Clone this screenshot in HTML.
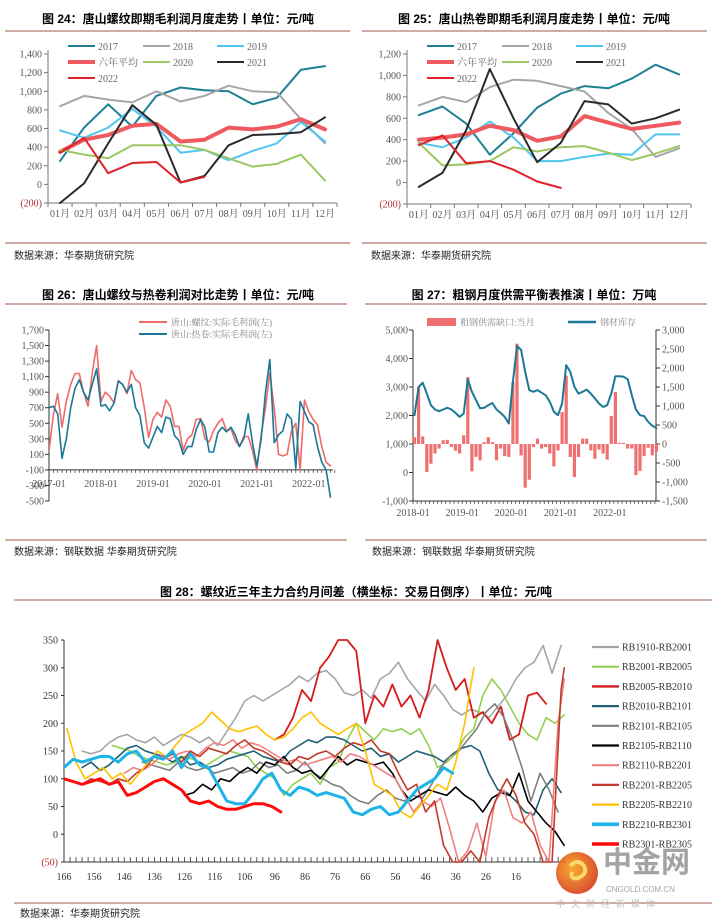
<!DOCTYPE html>
<html><head><meta charset="utf-8">
<style>
html,body{margin:0;padding:0;background:#fff;}
svg{display:block;}
text{font-family:"Liberation Serif","Noto Serif CJK SC",serif;}
.t{font-family:"Liberation Sans","Noto Sans CJK SC",sans-serif;font-weight:bold;font-size:12px;fill:#000;}
.s{font-family:"Liberation Sans","Noto Sans CJK SC",sans-serif;font-size:10px;fill:#222;}
.ax{font-size:10px;fill:#555;}
</style></head>
<body>
<svg id="root" width="712" height="923" viewBox="0 0 712 923" xmlns="http://www.w3.org/2000/svg">
<defs>
<clipPath id="c28"><rect x="64" y="636" width="505" height="228"/></clipPath>
<clipPath id="c26"><rect x="49" y="328" width="290" height="176"/></clipPath>
<radialGradient id="lg" cx="0.4" cy="0.4" r="0.7"><stop offset="0" stop-color="#f7a21b"/><stop offset="1" stop-color="#d4301a"/></radialGradient>
</defs>
<!-- titles and footers -->
<text class="t" x="178" y="23" text-anchor="middle">图 24：唐山螺纹即期毛利润月度走势丨单位：元/吨</text>
<line x1="5" y1="31" x2="350" y2="31" stroke="#a35a4a" stroke-width="1"/>
<line x1="5" y1="243" x2="350" y2="243" stroke="#a35a4a" stroke-width="1"/>
<text class="s" x="14" y="259">数据来源：华泰期货研究院</text>

<text class="t" x="534" y="23" text-anchor="middle">图 25：唐山热卷即期毛利润月度走势丨单位：元/吨</text>
<line x1="362" y1="31" x2="707" y2="31" stroke="#a35a4a" stroke-width="1"/>
<line x1="362" y1="243" x2="707" y2="243" stroke="#a35a4a" stroke-width="1"/>
<text class="s" x="371" y="259">数据来源：华泰期货研究院</text>

<text class="t" x="178" y="299" text-anchor="middle">图 26：唐山螺纹与热卷利润对比走势丨单位：元/吨</text>
<line x1="5" y1="304" x2="347" y2="304" stroke="#a35a4a" stroke-width="1"/>
<line x1="5" y1="540" x2="347" y2="540" stroke="#a35a4a" stroke-width="1"/>
<text class="s" x="14" y="555">数据来源：钢联数据 华泰期货研究院</text>

<text class="t" x="534" y="299" text-anchor="middle">图 27：粗钢月度供需平衡表推演丨单位：万吨</text>
<line x1="365" y1="304" x2="707" y2="304" stroke="#a35a4a" stroke-width="1"/>
<line x1="365" y1="540" x2="707" y2="540" stroke="#a35a4a" stroke-width="1"/>
<text class="s" x="372" y="555">数据来源：钢联数据 华泰期货研究院</text>

<text class="t" x="356" y="596" text-anchor="middle">图 28：螺纹近三年主力合约月间差（横坐标：交易日倒序）丨单位：元/吨</text>
<line x1="14" y1="600" x2="712" y2="600" stroke="#a35a4a" stroke-width="1"/>
<line x1="14" y1="903" x2="712" y2="903" stroke="#a35a4a" stroke-width="1"/>
<text class="s" x="20" y="917">数据来源：华泰期货研究院</text>

<g id="g24"></g>
<g id="g25"></g>
<g id="g26"></g>
<g id="g27"></g>
<g id="g28"></g>

<g opacity="0.9">
<circle cx="577" cy="873" r="21" fill="url(#lg)"/>
<path d="M570 866 q8 -8 14 0 q4 8 -6 12 q-8 2 -6 -6" stroke="#fbd55a" stroke-width="4" fill="none"/>
<text x="603" y="872" font-size="29" font-weight="bold" fill="#9a9a9a" style="font-family:'Noto Sans CJK SC',sans-serif">中金网</text>
<text x="606" y="892" font-size="8" fill="#9a9a9a" style="font-family:'Liberation Sans',sans-serif">CNGOLD.COM.CN</text>
<text x="556" y="907" font-size="9" fill="#bbb" letter-spacing="6" style="font-family:'Noto Sans CJK SC',sans-serif">中文财经新媒体</text>
</g>
</svg>
<script>
// ---------- Fig 24 data ----------
const months = ["01月","02月","03月","04月","05月","06月","07月","08月","09月","10月","11月","12月"];
const yearNames = ["2017","2018","2019","六年平均","2020","2021","2022"];
const r24_2017 = [250,610,860,620,950,1040,1010,1000,860,930,1230,1270];
const r24_2018 = [840,950,910,880,1000,890,950,1060,1000,990,700,440];
const r24_2019 = [580,500,610,810,620,340,370,260,360,440,670,460];
const r24_avg  = [350,480,530,630,650,460,480,610,590,620,700,590];
const r24_2020 = [370,320,280,420,420,420,370,280,190,220,320,40];
const r24_2021 = [-200,10,440,850,640,20,90,420,530,540,560,720];
const r24_2022 = [340,500,120,230,240,20,80];
const ticks24 = [1400,1200,1000,800,600,400,200,0,-200];
const tickLabels24 = ["1,400","1,200","1,000","800","600","400","200","0","(200)"];
// ---------- Fig 25 data ----------
const h25_2017 = [630,710,550,260,460,700,830,900,880,970,1100,1010];
const h25_2018 = [720,800,750,890,960,950,900,850,650,500,240,320];
const h25_2019 = [370,330,420,570,420,200,200,240,270,260,450,450];
const h25_avg  = [400,420,450,530,490,390,430,620,560,500,530,560];
const h25_2020 = [370,160,170,200,330,290,330,340,280,210,270,340];
const h25_2021 = [-40,90,490,1060,600,190,370,760,730,550,600,680];
const h25_2022 = [350,440,180,200,120,10,-50];
const ticks25 = [1200,1000,800,600,400,200,0,-200];
const tickLabels25 = ["1,200","1,000","800","600","400","200","0","(200)"];
// ---------- Fig 26 data (monthly from 2017-01) ----------
const rebar26 = [150,600,880,450,780,1000,1140,1140,900,720,1150,1500,780,900,850,760,1050,1000,880,1180,1060,1020,700,320,550,640,580,800,720,460,460,150,300,350,550,560,300,260,400,500,560,400,430,280,200,330,330,150,-100,350,700,1150,700,100,80,100,400,500,-100,800,650,550,480,200,0,-50];
const coil26 = [700,720,620,50,300,700,950,1060,900,800,1000,1200,720,740,660,760,1040,1000,900,1000,700,600,250,180,320,460,380,580,560,340,280,100,200,200,420,550,450,130,130,380,450,390,450,350,200,300,620,250,-50,300,900,1320,250,350,400,620,550,-80,780,650,520,480,200,0,-100,-450];
const xLabels26 = ["2017-01","2018-01","2019-01","2020-01","2021-01","2022-01"];
const ticks26 = [1700,1500,1300,1100,900,700,500,300,100,-100,-300,-500];
const tickLabels26 = ["1,700","1,500","1,300","1,100","900","700","500","300","100","-100","-300","-500"];
// ---------- Fig 27 data (monthly from 2018-01) ----------
const gap27 = [180,1500,200,-740,-520,-250,-120,100,110,-80,-180,-250,230,1760,-720,-340,-430,50,180,50,-430,-120,-320,-340,1630,2640,-300,-1150,-940,-80,140,-120,-80,-250,-590,-170,840,1800,-340,-870,-340,140,140,-170,-390,-150,-250,-410,740,1370,30,30,-120,-120,-820,-710,-320,-100,-300,-200];
const stock27 = [2010,3000,3150,2770,2360,2210,2150,2210,2270,2210,2090,1950,2070,3270,2830,2540,2250,2270,2360,2440,2210,2090,1950,1720,3180,4440,4300,3530,2890,2830,2890,2800,2710,2480,2130,2010,2420,3770,3530,3010,2770,2830,2910,2770,2600,2420,2300,2360,2770,3380,3380,3360,3270,2710,2210,2010,1980,1780,1640,1560];
const xLabels27 = ["2018-01","2019-01","2020-01","2021-01","2022-01"];
const leftTicks27 = [5000,4000,3000,2000,1000,0,-1000];
const leftLabels27 = ["5,000","4,000","3,000","2,000","1,000","0","-1,000"];
const rightTicks27 = [3000,2500,2000,1500,1000,500,0,-500,-1000,-1500];
const rightLabels27 = ["3,000","2,500","2,000","1,500","1,000","500","0","-500","-1,000","-1,500"];
// ---------- Fig 28 data (days to expiry, every 3 days from start) ----------
const seriesNames28 = ["RB1910-RB2001","RB2001-RB2005","RB2005-RB2010","RB2010-RB2101","RB2101-RB2105","RB2105-RB2110","RB2110-RB2201","RB2201-RB2205","RB2205-RB2210","RB2210-RB2301","RB2301-RB2305"];
const startDay28 = [160,150,96,160,140,126,146,166,165,166,166];
const s1910 = [150,145,150,165,175,180,170,165,175,160,170,180,175,165,175,160,185,210,240,250,240,250,260,270,285,275,290,295,280,255,250,260,245,280,290,310,280,260,240,270,250,225,215,225,220,210,230,250,280,300,310,340,290,340];
const s2001 = [160,155,150,140,135,130,125,130,140,135,120,130,140,150,145,140,120,110,100,70,90,100,110,90,120,130,170,200,185,170,190,185,190,180,190,160,120,130,145,175,190,250,280,260,230,200,180,170,210,200,215];
const s2005 = [170,180,210,260,240,300,320,350,350,330,200,250,230,270,230,250,210,260,350,300,260,280,210,220,200,230,170,180,250,255,235];
const s2010 = [120,130,115,125,140,155,160,150,145,140,130,140,125,130,120,125,135,140,145,150,140,135,130,150,160,170,165,175,175,170,160,150,155,140,145,130,140,150,145,140,130,145,155,160,150,110,80,75,60,40,35,80,100,75];
const s2101 = [130,125,120,115,130,120,115,120,110,115,120,110,115,130,120,125,110,115,130,110,100,90,85,70,60,55,70,80,65,60,70,65,90,120,140,150,170,190,220,235,210,170,120,60,110,80,40];
const s2105 = [70,75,90,80,100,95,110,120,110,130,125,140,120,110,115,100,120,140,125,135,130,125,130,110,80,60,70,80,75,70,85,70,60,40,65,75,70,110,60,40,20,5,-20];
const s2110 = [110,120,115,125,140,135,145,150,140,155,165,160,170,155,165,160,150,140,130,135,125,130,135,140,130,145,140,130,120,110,100,70,40,60,50,65,10,-50,-30,20,-40,60,80,30,20,40,-20,-50,200,280];
const s2201 = [100,95,90,100,95,90,100,95,110,120,140,135,145,130,150,140,155,150,145,160,170,155,150,140,130,125,140,135,145,150,140,155,165,160,170,150,145,110,80,90,40,60,-20,-50,-50,-30,-50,30,70,100,70,20,0,-50,-50,260,300];
const s2205 = [190,130,100,110,120,100,110,90,110,130,150,140,160,180,190,200,220,205,190,185,190,195,180,170,175,190,210,220,200,190,180,190,200,150,90,80,70,40,30,50,70,90,80,130,200,300];
const s2210 = [120,135,130,135,140,140,130,145,150,130,140,135,150,120,145,125,120,90,60,55,55,75,100,110,80,70,85,80,70,75,70,65,40,35,45,50,35,40,60,80,90,100,120,110];
const s2301 = [100,95,90,95,100,90,95,70,75,85,95,100,90,80,60,55,60,50,45,45,50,55,55,50,40];
const series28 = [s1910,s2001,s2005,s2010,s2101,s2105,s2110,s2201,s2205,s2210,s2301];
const dayTicks28 = [166,156,146,136,126,116,106,96,86,76,66,56,46,36,26,16];
const ticks28 = [350,300,250,200,150,100,50,0,-50];
const tickLabels28 = ["350","300","250","200","150","100","50","0","(50)"];

const NS = "http://www.w3.org/2000/svg";
function mk(parent, tag, attrs, txt){
  const e = document.createElementNS(NS, tag);
  for (const k in attrs) e.setAttribute(k, attrs[k]);
  if (txt !== undefined) e.textContent = txt;
  parent.appendChild(e);
  return e;
}
function poly(parent, pts, color, w, name){
  const e = mk(parent, "polyline", {points: pts.map(p=>p[0].toFixed(1)+","+p[1].toFixed(1)).join(" "), fill:"none", stroke:color, "stroke-width":w, "stroke-linejoin":"round", "stroke-linecap":"round"});
  
  
  return e;
}

// ---------- monthly year charts ----------
const colors7 = ["#1f7f95","#a6a6a6","#4fc6ef","#ee5a5e","#9bc860","#2a2a2a","#e0202a"];
const widths7 = [2,2,2,4,2,2,2];
function yearChart(g, data, ticks, labels, y0val, y1val, top, bottom, left, right, prefix){
  const yS = v => top + (y0val - v) / (y0val - y1val) * (bottom - top);
  const step = (right - left) / 12;
  const xS = i => left + step * (i + 0.5);
  let e = mk(g, "line", {x1:left, y1:top-4, x2:left, y2:bottom, stroke:"#777"});
   
  e = mk(g, "line", {x1:left, y1:bottom, x2:right, y2:bottom, stroke:"#777"});
   
  ticks.forEach((t,i)=>{
    mk(g,"line",{x1:left-4,y1:yS(t),x2:left,y2:yS(t),stroke:"#777"});
    const tl = mk(g,"text",{x:left-6,y:yS(t)+3.5,"text-anchor":"end",class:"ax",fill:t<0?"#c0392b":"#555"},labels[i]);
    if (t<0) tl.setAttribute("style","fill:#b03030");
    
    
  });
  for (let i=0;i<=12;i++) mk(g,"line",{x1:left+step*i,y1:bottom,x2:left+step*i,y2:bottom+4,stroke:"#777"});
  months.forEach((m,i)=>{
    const tl = mk(g,"text",{x:xS(i),y:bottom+14,"text-anchor":"middle",class:"ax"},m);
    
    
  });
  data.forEach((arr,si)=>{
    poly(g, arr.map((v,i)=>[xS(i), yS(v)]), colors7[si], widths7[si], prefix+'-line-'+yearNames[si]);
  });
  // legend
  const lx = [left+20, left+95, left+169], ly = [46,62,78];
  yearNames.forEach((n,i)=>{
    const c = i%3, r = Math.floor(i/3);
    const l = mk(g,"line",{x1:lx[c],y1:ly[r],x2:lx[c]+27,y2:ly[r],stroke:colors7[i],"stroke-width":widths7[i]});
    
    
    const t = mk(g,"text",{x:lx[c]+30,y:ly[r]+4,class:"ax",style:"fill:#666"},n);
    
    
  });
}
yearChart(document.getElementById("g24"), [r24_2017,r24_2018,r24_2019,r24_avg,r24_2020,r24_2021,r24_2022], ticks24, tickLabels24, 1400, -200, 54, 203, 48, 337, "fig24");
yearChart(document.getElementById("g25"), [h25_2017,h25_2018,h25_2019,h25_avg,h25_2020,h25_2021,h25_2022], ticks25, tickLabels25, 1200, -200, 54, 204, 407, 691, "fig25");

// ---------- Fig 26 ----------
(function(){
  const g = document.getElementById("g26");
  const top=330, bot=501, left=49, right=333;
  const yS = v => top + (1700 - v)/2200*(bot-top);
  const mStep = 4.33;
  const xS = i => left + i*mStep;
  const xa = yS(-100);
  let e = mk(g,"line",{x1:left,y1:top,x2:left,y2:bot,stroke:"#333"});
   
  e = mk(g,"line",{x1:left,y1:xa,x2:right,y2:xa,stroke:"#333"});
   
  for (let i=0;i<=66;i++) mk(g,"line",{x1:xS(i),y1:xa,x2:xS(i),y2:xa+3,stroke:"#333","stroke-width":0.7});
  ticks26.forEach((t,i)=>{
    mk(g,"line",{x1:left-4,y1:yS(t),x2:left,y2:yS(t),stroke:"#333"});
    const tl = mk(g,"text",{x:left-5,y:yS(t)+3.5,"text-anchor":"end",class:"ax"},tickLabels26[i]);
     
  });
  xLabels26.forEach((l,i)=>{
    const tl = mk(g,"text",{x:xS(i*12)+(i==0?0:0),y:xa+17,"text-anchor":"middle",class:"ax"},l);
     
  });
  const cg = mk(g,"g",{"clip-path":"url(#c26)"});
  poly(cg, rebar26.map((v,i)=>[xS(i),yS(v)]), "#ee6b6b", 1.6, "fig26-line-rebar-profit");
  poly(cg, coil26.map((v,i)=>[xS(i),yS(v)]), "#1a7896", 1.6, "fig26-line-coil-profit");
  const names = ["唐山:螺纹:实际毛利润(左)","唐山:热卷:实际毛利润(左)"], cols=["#ee6b6b","#1a7896"];
  [322,334].forEach((y,i)=>{
    const l = mk(g,"line",{x1:139,y1:y,x2:167,y2:y,stroke:cols[i],"stroke-width":2});
     
    const t = mk(g,"text",{x:171,y:y+3.5,class:"ax",style:"fill:#888;font-size:9px"},names[i]);
     
  });
})();

// ---------- Fig 27 ----------
(function(){
  const g = document.getElementById("g27");
  const top=330, bot=501, left=413, right=656;
  const yL = v => top + (5000 - v)/6000*(bot-top);
  const yR = v => top + (3000 - v)/4500*(bot-top);
  const step = 4.1;
  const xS = i => left + 1.5 + i*step;
  let e = mk(g,"line",{x1:left,y1:top,x2:left,y2:bot,stroke:"#333"});
   
  e = mk(g,"line",{x1:right,y1:top,x2:right,y2:bot,stroke:"#333"});
   
  e = mk(g,"line",{x1:left,y1:bot,x2:right,y2:bot,stroke:"#333"});
   
  for (let i=0;i<=59;i++) mk(g,"line",{x1:left+i*step,y1:bot,x2:left+i*step,y2:bot+3,stroke:"#333","stroke-width":0.7});
  leftTicks27.forEach((t,i)=>{
    mk(g,"line",{x1:left-4,y1:yL(t),x2:left,y2:yL(t),stroke:"#333"});
    const tl = mk(g,"text",{x:left-5,y:yL(t)+3.5,"text-anchor":"end",class:"ax"},leftLabels27[i]);
     
  });
  rightTicks27.forEach((t,i)=>{
    mk(g,"line",{x1:right,y1:yR(t),x2:right+4,y2:yR(t),stroke:"#333"});
    const tl = mk(g,"text",{x:right+6,y:yR(t)+3.5,class:"ax"},rightLabels27[i]);
     
  });
  xLabels27.forEach((l,i)=>{
    const tl = mk(g,"text",{x:left+i*12*step,y:bot+15,"text-anchor":"middle",class:"ax"},l);
     
  });
  const z = yR(0);
  gap27.forEach((v,i)=>{
    const y = yR(v);
    const b = mk(g,"rect",{x:xS(i)-1.6,y:Math.min(y,z),width:3.2,height:Math.abs(z-y),fill:"#f07070"});
    
    
  });
  poly(g, stock27.map((v,i)=>[xS(i),yL(v)]), "#1a7896", 2, "fig27-line-steel-stock");
  const s = mk(g,"rect",{x:427,y:318,width:29,height:8,fill:"#f07070"});
   
  let t = mk(g,"text",{x:460,y:325.5,class:"ax",style:"fill:#888;font-size:9px"},"粗钢供需缺口:当月");
   
  const l = mk(g,"line",{x1:568,y1:322,x2:596,y2:322,stroke:"#1a7896","stroke-width":2.5});
   
  t = mk(g,"text",{x:600,y:325.5,class:"ax",style:"fill:#888;font-size:9px"},"钢材库存");
   
})();

// ---------- Fig 28 ----------
(function(){
  const g = document.getElementById("g28");
  const top=640, bot=862, left=64;
  const yS = v => top + (350 - v)/400*(bot-top);
  const xS = d => left + (166 - d)*3.013;
  let e = mk(g,"line",{x1:left,y1:top,x2:left,y2:bot,stroke:"#333"});
   
  e = mk(g,"line",{x1:left,y1:bot,x2:xS(0)+2,y2:bot,stroke:"#333"});
   
  for (let d=166; d>=0; d-=2) mk(g,"line",{x1:xS(d),y1:bot-5,x2:xS(d),y2:bot,stroke:"#333","stroke-width":0.8});
  ticks28.forEach((t,i)=>{
    mk(g,"line",{x1:left-3,y1:yS(t),x2:left,y2:yS(t),stroke:"#333"});
    const tl = mk(g,"text",{x:left-6,y:yS(t)+3.5,"text-anchor":"end",class:"ax",style:t<0?"fill:#b03030":"fill:#333"},tickLabels28[i]);
     
  });
  dayTicks28.forEach(d=>{
    const tl = mk(g,"text",{x:xS(d),y:880,"text-anchor":"middle",class:"ax",style:"fill:#333"},String(d));
     
  });
  const cols = ["#a6a6a6","#92d050","#d41c1c","#1f5f74","#7f7f7f","#000000","#f08080","#c0392b","#ffc000","#1eb4ea","#ff0a0a"];
  const ws = [1.6,1.6,1.8,1.6,1.6,1.6,1.6,1.6,1.6,3,3];
  const cg = mk(g,"g",{"clip-path":"url(#c28)"});
  series28.forEach((arr,si)=>{
    const pts = arr.map((v,i)=>{
      let d = startDay28[si] - i*3;
      if (d < 0) d = 0;
      return [xS(d), yS(v)];
    });
    poly(cg, pts, cols[si], ws[si], 'fig28-line-'+seriesNames28[si]);
  });
  seriesNames28.forEach((n,i)=>{
    const y = 647 + i*19.7;
    const l = mk(g,"line",{x1:592,y1:y,x2:619,y2:y,stroke:cols[i],"stroke-width":ws[i]+0.6});
     
    const t = mk(g,"text",{x:622,y:y+3.5,class:"ax",style:"fill:#333;font-size:10px"},n);
     
  });
})();
</script>
</body></html>
